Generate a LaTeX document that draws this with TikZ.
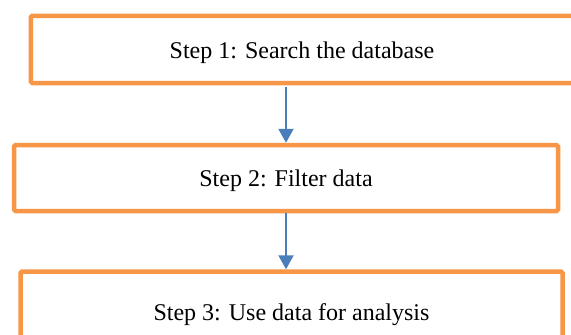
\documentclass[tikz,border=0pt]{standalone}
\usepackage{fontspec}
\setmainfont{Liberation Serif}
\usetikzlibrary{arrows.meta}
\definecolor{boxorange}{HTML}{F79646}
\definecolor{flowblue}{HTML}{4A7EBB}
\tikzset{
  stepbox/.style={draw=boxorange, line width=4.5pt, rounded corners=1.5pt,
    fill=white, font=\fontsize{24}{28}\selectfont, text depth=0pt,
    inner sep=0pt},
  steptext/.style={font=\fontsize{24}{28}\selectfont, text depth=0pt,
    inner sep=0pt},
  flow/.style={draw=flowblue, line width=2.2pt,
    -{Triangle[length=14pt, width=15pt]}}
}
\begin{document}
\begin{tikzpicture}[x=1pt, y=1pt]
  \useasboundingbox (0,0) rectangle (571,-335);
  \clip (0,0) rectangle (571,-335);

  % the three process steps; the first box runs on past the right edge
  \node[stepbox, minimum width=580pt, minimum height=67.2pt]
    (s1) at (320.8,-49.4) {};
  \node[steptext] (t1) at (302,-50) {Step 1: Search the database};
  \node[stepbox, minimum width=544pt, minimum height=66pt]
    (s2) at (286,-178) {Step 2: Filter data};
  \node[stepbox, minimum width=542pt, minimum height=81pt]
    (s3) at (291.5,-312) {Step 3: Use data for analysis};

  % connectors between the steps
  \draw[flow, shorten <=1.5pt] (s2.north |- s1.south) -- (s2.north);
  \draw[flow] (s2.south) -- (s2.south |- s3.north);
\end{tikzpicture}
\end{document}
